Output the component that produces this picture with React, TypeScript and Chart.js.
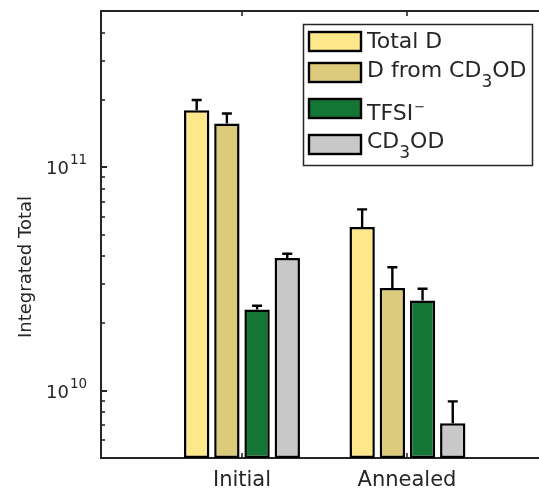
import React, { useEffect, useRef } from 'react';
import { Chart, registerables } from 'chart.js';

Chart.register(...registerables);

// Sample groups and their positions on the x axis
const categories = ['Initial', 'Annealed'];
const categoryPositions = [1, 2];

// Series names; _{..} marks a subscript and ^{..} a superscript
const seriesLabels = ['Total D', 'D from CD_{3}OD', 'TFSI^{−}', 'CD_{3}OD'];
const seriesColors = ['#FEE88A', '#DCCB7A', '#147634', '#C8C8C8'];

// Integrated totals (mean) and their upper error
const totalD = [1.8e11, 5.4e10];
const totalDErr = [2.0e10, 1.08e10];
const dFromCD3OD = [1.57e11, 2.88e10];
const dFromCD3ODErr = [1.7e10, 6.9e9];
const tfsi = [2.31e10, 2.53e10];
const tfsiErr = [0.9e9, 3.3e9];
const cd3od = [3.92e10, 7.16e9];
const cd3odErr = [1.8e9, 1.8e9];

// Axis ranges and tick values
const xMin = 0.148;
const xMax = 2.795;
const yMin = 5e9;
const yMax = 5e11;
const yMajorTicks = [1e10, 1e11];
const yMinorTicks = [
  6e9, 7e9, 8e9, 9e9,
  2e10, 3e10, 4e10, 5e10, 6e10, 7e10, 8e10, 9e10,
  2e11, 3e11, 4e11,
];
const yTitle = 'Integrated Total';

const seriesValues = [totalD, dFromCD3OD, tfsi, cd3od];
const seriesErrors = [totalDErr, dFromCD3ODErr, tfsiErr, cd3odErr];

const FONT = '"DejaVu Sans", "Liberation Sans", sans-serif';
const INK = '#262626';

type Segment = { text: string; mode: 'normal' | 'sub' | 'sup' };

function parseRich(s: string): Segment[] {
  const out: Segment[] = [];
  const re = /_\{([^}]*)\}|\^\{([^}]*)\}/g;
  let last = 0;
  let m: RegExpExecArray | null;
  while ((m = re.exec(s))) {
    if (m.index > last) out.push({ text: s.slice(last, m.index), mode: 'normal' });
    if (m[1] !== undefined) out.push({ text: m[1], mode: 'sub' });
    else out.push({ text: m[2], mode: 'sup' });
    last = re.lastIndex;
  }
  if (last < s.length) out.push({ text: s.slice(last), mode: 'normal' });
  return out;
}

const SUB_DIGITS: Record<string, string> = { '0': '₀', '1': '₁', '2': '₂', '3': '₃', '4': '₄', '5': '₅', '6': '₆', '7': '₇', '8': '₈', '9': '₉' };
function toPlain(s: string): string {
  return parseRich(s)
    .map((seg) => (seg.mode === 'sub' ? seg.text.split('').map((c) => SUB_DIGITS[c] ?? c).join('') : seg.mode === 'sup' ? seg.text.replace('−', '⁻') : seg.text))
    .join('');
}

function drawRich(ctx: CanvasRenderingContext2D, s: string, x: number, baseline: number, size: number) {
  let cx = x;
  ctx.textAlign = 'left';
  ctx.textBaseline = 'alphabetic';
  for (const seg of parseRich(s)) {
    if (seg.mode === 'normal') {
      ctx.font = `${size}px ${FONT}`;
      ctx.fillText(seg.text, cx, baseline);
    } else if (seg.mode === 'sub') {
      ctx.font = `${Math.round(size * 0.78)}px ${FONT}`;
      ctx.fillText(seg.text, cx, baseline + 10);
    } else {
      ctx.font = `${Math.round(size * 0.6)}px ${FONT}`;
      ctx.fillText(seg.text, cx + 1, baseline - 9);
    }
    cx += ctx.measureText(seg.text).width + (seg.mode === 'sup' ? 1 : 0);
  }
}

const decorations = {
  id: 'decorations',
  afterDatasetsDraw(chart: any) {
    const { ctx } = chart;
    const y = chart.scales.y;
    ctx.save();
    ctx.strokeStyle = '#000';
    ctx.lineWidth = 2.4;
    chart.data.datasets.forEach((ds: any, d: number) => {
      const meta = chart.getDatasetMeta(d);
      meta.data.forEach((bar: any, i: number) => {
        const v = seriesValues[d][i];
        const e = ds.errors[i];
        const yBar = y.getPixelForValue(v);
        const yTop = y.getPixelForValue(v + e);
        ctx.beginPath();
        ctx.moveTo(bar.x, yBar);
        ctx.lineTo(bar.x, yTop);
        ctx.moveTo(bar.x - 5, yTop);
        ctx.lineTo(bar.x + 5, yTop);
        ctx.stroke();
      });
    });
    ctx.restore();
  },
  afterDraw(chart: any) {
    const { ctx, chartArea } = chart;
    const x = chart.scales.x;
    const y = chart.scales.y;
    const { left, right, top, bottom } = chartArea;
    ctx.save();
    ctx.strokeStyle = INK;
    ctx.fillStyle = INK;

    // top frame line
    ctx.lineWidth = 2;
    ctx.beginPath();
    ctx.moveTo(left - 1, top);
    ctx.lineTo(right, top);
    ctx.stroke();

    // y ticks, pointing inward
    ctx.lineWidth = 2;
    yMajorTicks.forEach((t) => {
      const py = Math.round(y.getPixelForValue(t));
      ctx.beginPath();
      ctx.moveTo(left, py);
      ctx.lineTo(left + 6, py);
      ctx.stroke();
    });
    ctx.lineWidth = 1.6;
    yMinorTicks.forEach((t) => {
      const py = Math.round(y.getPixelForValue(t));
      ctx.beginPath();
      ctx.moveTo(left, py);
      ctx.lineTo(left + 4, py);
      ctx.stroke();
    });

    // y tick labels as powers of ten
    yMajorTicks.forEach((t) => {
      const py = y.getPixelForValue(t);
      const exp = Math.round(Math.log10(t));
      ctx.textBaseline = 'alphabetic';
      ctx.font = `18px ${FONT}`;
      ctx.textAlign = 'right';
      ctx.fillText('10', 69, py + 7);
      ctx.font = `13.5px ${FONT}`;
      ctx.textAlign = 'left';
      ctx.fillText(String(exp), 70, py - 3);
    });

    // x ticks (bottom and top, inward) and labels
    ctx.lineWidth = 1.6;
    categoryPositions.forEach((p, i) => {
      const px = Math.round(x.getPixelForValue(p));
      ctx.beginPath();
      ctx.moveTo(px, bottom);
      ctx.lineTo(px, bottom - 5);
      ctx.moveTo(px, top);
      ctx.lineTo(px, top + 5);
      ctx.stroke();
      ctx.font = `21px ${FONT}`;
      ctx.textAlign = 'center';
      ctx.textBaseline = 'alphabetic';
      ctx.fillText(categories[i], px, 486);
    });

    // y axis title
    ctx.save();
    ctx.translate(31, 267);
    ctx.rotate(-Math.PI / 2);
    ctx.font = `18px ${FONT}`;
    ctx.textAlign = 'center';
    ctx.textBaseline = 'alphabetic';
    ctx.fillText(yTitle, 0, 0);
    ctx.restore();

    // legend
    ctx.fillStyle = '#fff';
    ctx.fillRect(303.5, 24.5, 229, 141);
    ctx.lineWidth = 1.5;
    ctx.strokeRect(303.5, 24.5, 229, 141);
    const swatchTops = [31, 62, 98, 134];
    const textBaselines = [48, 77, 120, 148];
    seriesLabels.forEach((label, i) => {
      ctx.fillStyle = seriesColors[i];
      ctx.fillRect(309, swatchTops[i] + 1, 52, 19);
      ctx.strokeStyle = '#000';
      ctx.lineWidth = 2.4;
      ctx.strokeRect(309, swatchTops[i] + 1, 52, 19);
      ctx.fillStyle = INK;
      drawRich(ctx, label, 367, textBaselines[i], 22);
    });

    ctx.restore();
  },
};

export default function App() {
  const canvasRef = useRef<HTMLCanvasElement | null>(null);

  useEffect(() => {
    if (!canvasRef.current) return;
    Chart.defaults.font.family = FONT;
    const chart = new Chart(canvasRef.current, {
      type: 'bar',
      data: {
        datasets: seriesLabels.map((label, d) => ({
          label: toPlain(label),
          data: categoryPositions.map((p, i) => ({ x: p, y: seriesValues[d][i] })),
          errors: seriesErrors[d],
          backgroundColor: seriesColors[d],
          borderColor: '#000',
          borderWidth: 2.5,
          borderSkipped: false,
          categoryPercentage: 0.73,
          barPercentage: 0.84,
        })) as any,
      },
      options: {
        animation: false,
        responsive: true,
        maintainAspectRatio: false,
        layout: { padding: { top: 11, right: 0, bottom: 0, left: 0 } },
        plugins: {
          legend: { display: false },
          tooltip: { enabled: false },
        },
        scales: {
          x: {
            type: 'linear',
            min: xMin,
            max: xMax,
            bounds: 'data',
            offset: false,
            grid: { display: false, drawTicks: false },
            border: { display: true, color: INK, width: 2 },
            ticks: { display: false },
            afterBuildTicks: (scale: any) => {
              scale.ticks = categoryPositions.map((v) => ({ value: v }));
            },
            afterFit: (scale: any) => {
              scale.height = 30;
            },
          },
          y: {
            type: 'logarithmic',
            min: yMin,
            max: yMax,
            bounds: 'data',
            grid: { display: false, drawTicks: false },
            border: { display: true, color: INK, width: 2 },
            ticks: { display: false },
            afterFit: (scale: any) => {
              scale.width = 101;
            },
          },
        },
      } as any,
      plugins: [decorations],
    });
    return () => chart.destroy();
  }, []);

  return (
    <div style={{ position: 'absolute', left: 0, top: 0, width: 539, height: 488, background: '#fff' }}>
      <canvas ref={canvasRef} />
    </div>
  );
}
